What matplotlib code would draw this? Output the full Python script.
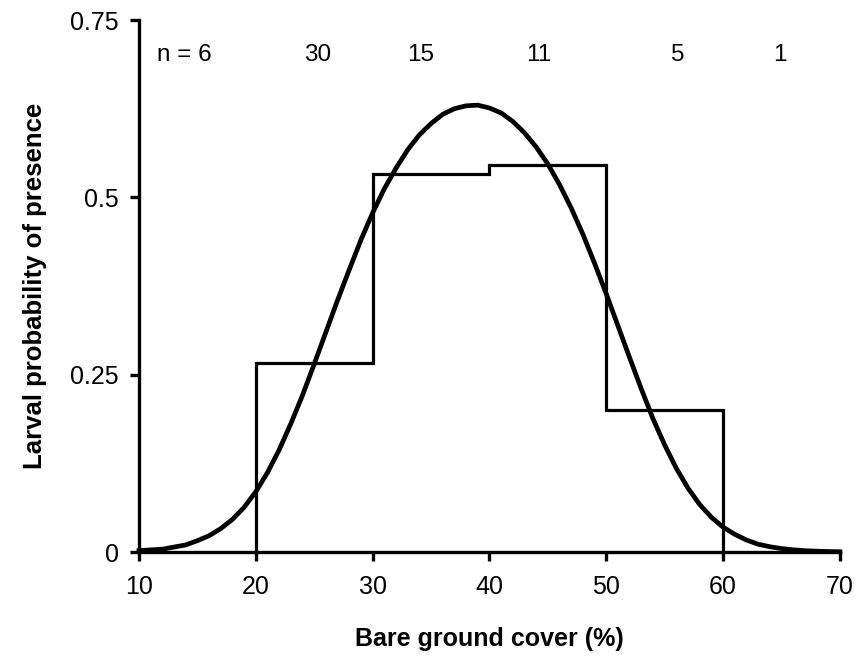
import matplotlib

matplotlib.use("Agg")
import matplotlib.pyplot as plt

# Observed proportions per 10 % bare-ground bin (step outline)
bin_edges = [20, 30, 40, 50, 60]
bin_props = [0.267, 0.533, 0.545, 0.200]

# Sample sizes per bin, shown along the top
n_labels = ["n = 6", "30", "15", "11", "5", "1"]
n_label_x = [13.9, 25.3, 34.1, 44.2, 56.1, 64.9]

# Fitted probability curve at 1 % steps
curve_x = list(range(10, 71))
curve_p = [0.002, 0.003, 0.004, 0.007, 0.010, 0.016, 0.023, 0.033, 0.046, 0.063,
           0.085, 0.112, 0.144, 0.181, 0.221, 0.265, 0.310, 0.355, 0.398, 0.440,
           0.478, 0.512, 0.541, 0.567, 0.588, 0.604, 0.617, 0.625, 0.629, 0.630,
           0.626, 0.619, 0.607, 0.591, 0.571, 0.547, 0.518, 0.485, 0.448, 0.407,
           0.364, 0.319, 0.274, 0.230, 0.188, 0.151, 0.118, 0.090, 0.067, 0.049,
           0.035, 0.025, 0.017, 0.011, 0.0075, 0.0049, 0.0031, 0.0019, 0.0012,
           0.0007, 0.0004]

plt.rcParams["font.family"] = ["Liberation Sans", "DejaVu Sans"]

fig = plt.figure(figsize=(8.6, 6.56), dpi=100)
ax = fig.add_axes([0.1616, 0.1585, 0.815, 0.811])

# step outline: up from 0 at first edge, back down to 0 at last edge
sx = [bin_edges[0]]
sy = [0.0]
for i, p in enumerate(bin_props):
    sx += [bin_edges[i], bin_edges[i + 1]]
    sy += [p, p]
sx.append(bin_edges[-1])
sy.append(0.0)
ax.plot(sx, sy, color="black", lw=2.3, solid_joinstyle="miter", clip_on=False)

ax.plot(curve_x, curve_p, color="black", lw=3.4, clip_on=False)

for lab, x in zip(n_labels, n_label_x):
    ax.text(x, 0.70, lab, ha="center", va="center", fontsize=17.5)

ax.set_xlim(10, 70)
ax.set_ylim(0, 0.75)
ax.set_xticks([10, 20, 30, 40, 50, 60, 70])
ax.set_yticks([0, 0.25, 0.5, 0.75])
ax.set_yticklabels(["0", "0.25", "0.5", "0.75"])

for s in ["top", "right"]:
    ax.spines[s].set_visible(False)
for s in ["left", "bottom"]:
    ax.spines[s].set_linewidth(2.4)
ax.tick_params(axis="both", direction="out", length=6.5, width=2.4,
               labelsize=18)
ax.tick_params(axis="x", pad=10)
ax.tick_params(axis="y", pad=8)

ax.set_xlabel("Bare ground cover (%)", fontsize=18, fontweight="bold", labelpad=20)
ax.set_ylabel("Larval probability of presence", fontsize=18.5, fontweight="bold",
              labelpad=17)

fig.savefig("out.png", dpi=100)
